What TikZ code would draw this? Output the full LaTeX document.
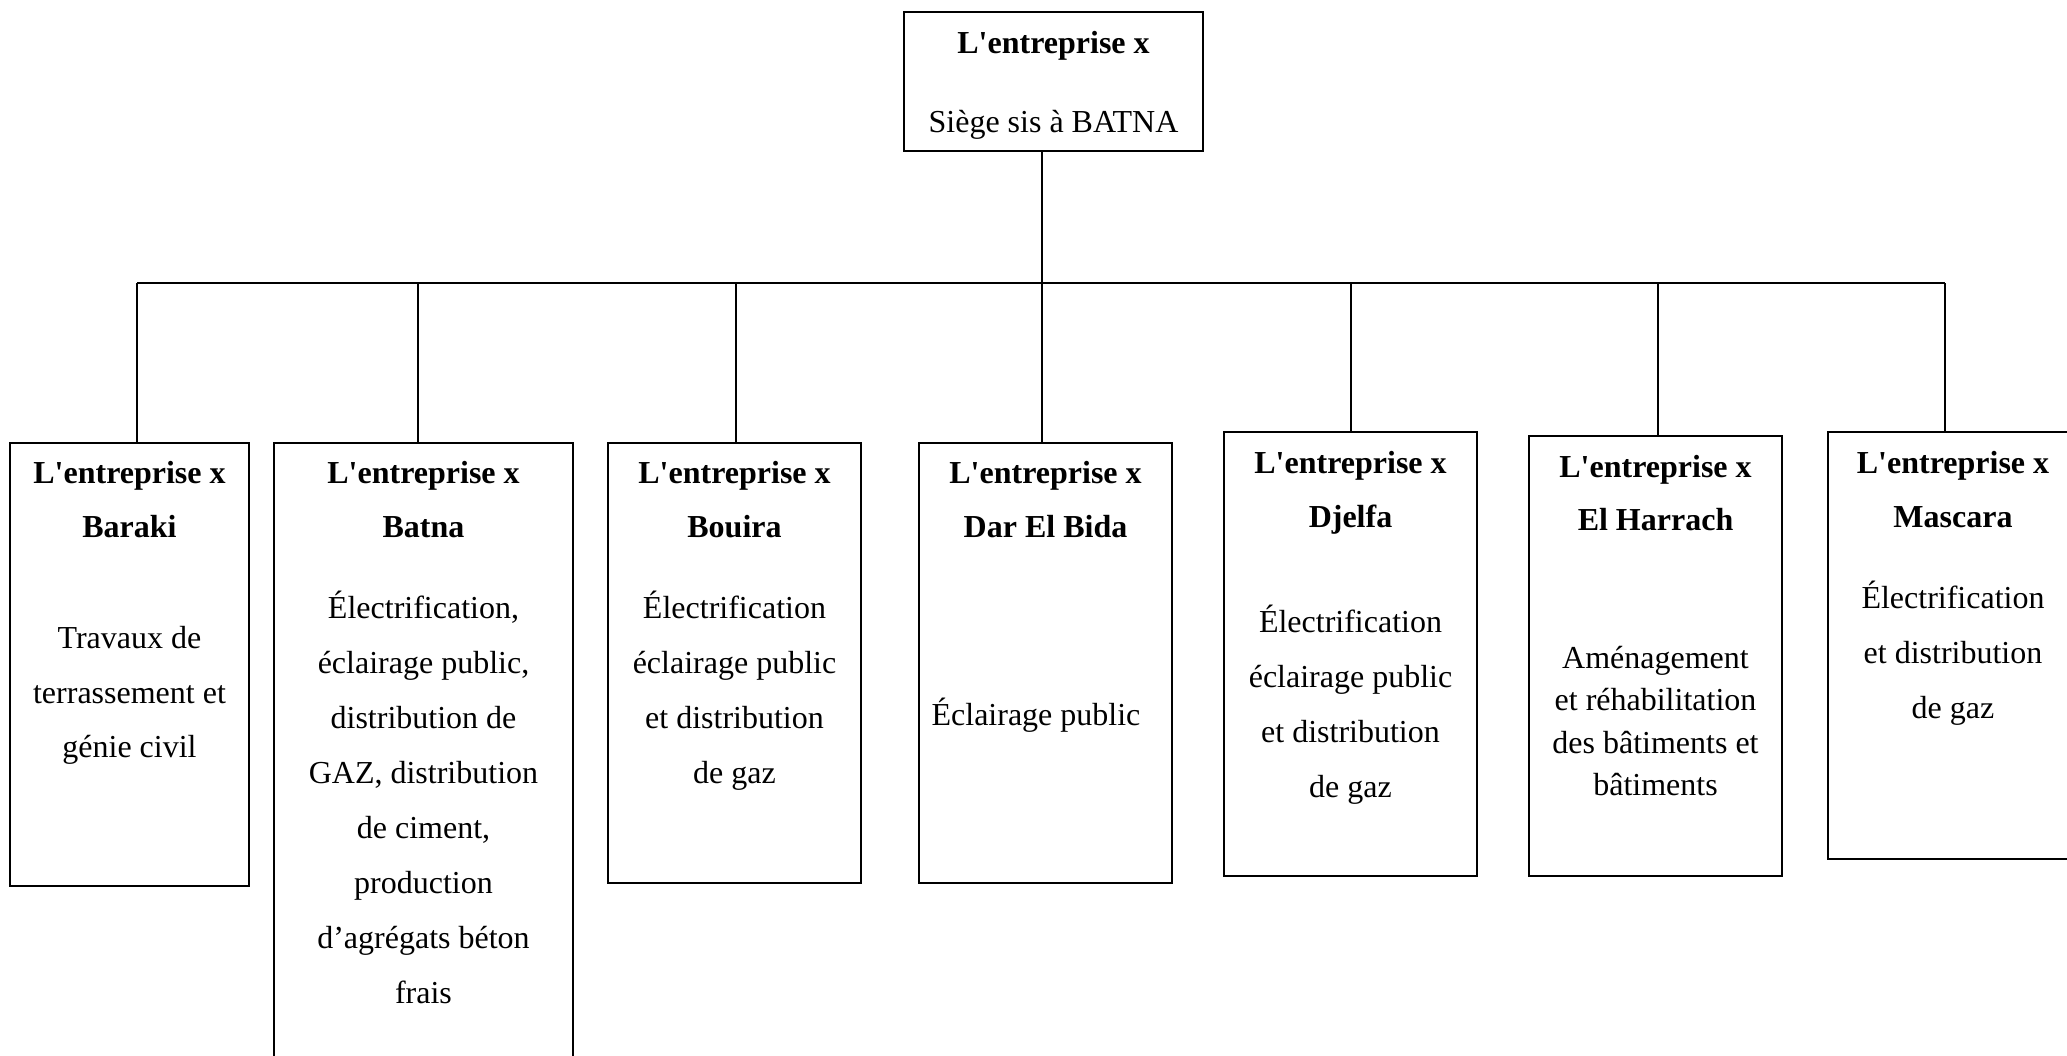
\documentclass[tikz,border=0pt]{standalone}
\usepackage{fontspec}
\setmainfont{Liberation Serif}[Ligatures=TeXOff]
\usetikzlibrary{fit}

\begin{document}
\begin{tikzpicture}[x=0.5pt,y=-0.5pt,
  unit/.style={draw=black, line width=1pt, inner sep=0pt},
  txt/.style={anchor=base, inner sep=0pt, font=\fontsize{16pt}{19pt}\selectfont},
  head/.style={txt, font=\fontsize{16pt}{19pt}\selectfont\bfseries},
  link/.style={draw=black, line width=1pt}]
\clip (0,0) rectangle (2067,1055);
\fill[white] (0,0) rectangle (2067,1055);

% head office and the seven subsidiaries
\node[unit, fit={(904,12) (1203,151)}] (hq) {};
\node[unit, fit={(10,443) (249,886)}] (b1) {};
\node[unit, fit={(274,443) (573,1080)}] (b2) {};
\node[unit, fit={(608,443) (861,883)}] (b3) {};
\node[unit, fit={(919,443) (1172,883)}] (b4) {};
\node[unit, fit={(1224,432) (1477,876)}] (b5) {};
\node[unit, fit={(1529,436) (1782,876)}] (b6) {};
\node[unit, fit={(1828,432) (2078,859)}] (b7) {};

% junctions on the distribution bar
\coordinate (j1) at (137,283);
\coordinate (j2) at (418,283);
\coordinate (j3) at (736,283);
\coordinate (j4) at (1042,283);
\coordinate (j5) at (1351,283);
\coordinate (j6) at (1658,283);
\coordinate (j7) at (1945,283);

\draw[link] (j4 |- hq.south) -- (j4);
\draw[link] (j1) -- (j7);
\foreach \i in {1,...,7}
  \draw[link] (j\i) -- (j\i |- b\i.north);

% head office text
\node[head] (hq-a) at (1053.5,53) {L'entreprise x};
\node[txt]  (hq-b) at (1053.5,132) {Siège sis à BATNA};

% Baraki
\node[head] (b1-a) at (129.5,483) {L'entreprise x};
\node[head] (b1-b) at (129.5,537) {Baraki};
\node[txt]  (b1-c) at (129.5,648) {Travaux de};
\node[txt]  (b1-d) at (129.5,703) {terrassement et};
\node[txt]  (b1-e) at (129.5,757) {génie civil};

% Batna
\node[head] (b2-a) at (423.5,483) {L'entreprise x};
\node[head] (b2-b) at (423.5,537) {Batna};
\node[txt]  (b2-c) at (423.5,618) {Électrification,};
\node[txt]  (b2-d) at (423.5,673) {éclairage public,};
\node[txt]  (b2-e) at (423.5,728) {distribution de};
\node[txt]  (b2-f) at (423.5,783) {GAZ, distribution};
\node[txt]  (b2-g) at (423.5,838) {de ciment,};
\node[txt]  (b2-h) at (423.5,893) {production};
\node[txt]  (b2-i) at (423.5,948) {d’agrégats béton};
\node[txt]  (b2-j) at (423.5,1003) {frais};

% Bouira
\node[head] (b3-a) at (734.5,483) {L'entreprise x};
\node[head] (b3-b) at (734.5,537) {Bouira};
\node[txt]  (b3-c) at (734.5,618) {Électrification};
\node[txt]  (b3-d) at (734.5,673) {éclairage public};
\node[txt]  (b3-e) at (734.5,728) {et distribution};
\node[txt]  (b3-f) at (734.5,783) {de gaz};

% Dar El Bida
\node[head] (b4-a) at (1045.5,483) {L'entreprise x};
\node[head] (b4-b) at (1045.5,537) {Dar El Bida};
\node[txt]  (b4-c) at (1036,725) {Éclairage public};

% Djelfa
\node[head] (b5-a) at (1350.5,473) {L'entreprise x};
\node[head] (b5-b) at (1350.5,527) {Djelfa};
\node[txt]  (b5-c) at (1350.5,632) {Électrification};
\node[txt]  (b5-d) at (1350.5,687) {éclairage public};
\node[txt]  (b5-e) at (1350.5,742) {et distribution};
\node[txt]  (b5-f) at (1350.5,797) {de gaz};

% El Harrach
\node[head] (b6-a) at (1655.5,477) {L'entreprise x};
\node[head] (b6-b) at (1655.5,530) {El Harrach};
\node[txt]  (b6-c) at (1655.5,668) {Aménagement};
\node[txt]  (b6-d) at (1655.5,710) {et réhabilitation};
\node[txt]  (b6-e) at (1655.5,753) {des bâtiments et};
\node[txt]  (b6-f) at (1655.5,795) {bâtiments};

% Mascara
\node[head] (b7-a) at (1953,473) {L'entreprise x};
\node[head] (b7-b) at (1953,527) {Mascara};
\node[txt]  (b7-c) at (1953,608) {Électrification};
\node[txt]  (b7-d) at (1953,663) {et distribution};
\node[txt]  (b7-e) at (1953,718) {de gaz};
\end{tikzpicture}
\end{document}
